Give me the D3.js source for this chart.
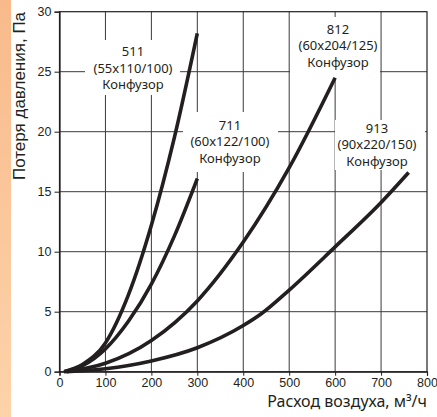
<!DOCTYPE html>
<html><head><meta charset="utf-8">
<script src="https://cdn.jsdelivr.net/npm/d3@7"></script>
<style>
html,body{margin:0;padding:0;background:#fff;}
svg{display:block;}
</style></head>
<body>
<svg id="chart" width="437" height="417"></svg>
<script>
// ---- data ----
const xTicks = [0, 100, 200, 300, 400, 500, 600, 700, 800];
const yTicks = [0, 5, 10, 15, 20, 25, 30];

const flow511 = [10, 50, 100, 150, 200, 250, 300];
const loss511 = [0, 0.6, 2.4, 6.4, 12.2, 19.5, 28.2];

const flow711 = [10, 50, 100, 150, 200, 250, 300];
const loss711 = [0, 0.5, 1.9, 4.2, 7.3, 11.3, 16.1];

const flow812 = [15, 100, 200, 300, 400, 500, 600];
const loss812 = [0, 0.7, 2.6, 5.9, 10.8, 17.0, 24.5];

const flow913 = [15, 100, 200, 300, 400, 440, 500, 600, 700, 760];
const loss913 = [0, 0.25, 0.9, 2.0, 3.85, 4.85, 6.8, 10.4, 14.1, 16.6];

const seriesNames = ["511", "711", "812", "913"];
const seriesSizes = ["(55x110/100)", "(60x122/100)", "(60x204/125)", "(90x220/150)"];
const seriesType = "Конфузор";

const xTitle = "Расход воздуха, м³/ч";
const yTitle = "Потеря давления, Па";

// ---- layout ----
const svg = d3.select("#chart");
const W = 437, H = 417;
const x = d3.scaleLinear().domain([0, 800]).range([59.5, 427]);
const y = d3.scaleLinear().domain([0, 30]).range([371.7, 11.7]);
const ink = "#231f20";

// orange strip
const defs = svg.append("defs");
const grad = defs.append("linearGradient").attr("id", "strip")
  .attr("x1", 0).attr("y1", 0).attr("x2", 0).attr("y2", 1);
grad.append("stop").attr("offset", "0%").attr("stop-color", "#f8ba8b");
grad.append("stop").attr("offset", "100%").attr("stop-color", "#fdd3aa");
svg.append("rect").attr("x", 0).attr("y", 0).attr("width", 11).attr("height", H)
  .attr("fill", "url(#strip)");

// grid
const g = svg.append("g");
g.selectAll("line.vg").data(xTicks.slice(1, -1)).join("line")
  .attr("x1", d => x(d)).attr("x2", d => x(d))
  .attr("y1", y(30)).attr("y2", y(0))
  .attr("stroke", "#3a3a3a").attr("stroke-width", 1);
g.selectAll("line.hg").data(yTicks.slice(1, -1)).join("line")
  .attr("x1", x(0)).attr("x2", x(800))
  .attr("y1", d => y(d)).attr("y2", d => y(d))
  .attr("stroke", "#3a3a3a").attr("stroke-width", 1);

// label boxes (white knockouts) in data coords
const labelLayout = [
  {cx: 160, cy: 26.27, bx0: 55.5, bx1: 262.4, by0: 27.64, by1: 23.06},
  {cx: 371, cy: 20.14, bx0: 268.8, bx1: 475.6, by0: 21.64, by1: 16.64},
  {cx: 606.3, cy: 28.14, bx0: 501.8, bx1: 697.7, by0: 29.56, by1: 24.48},
  {cx: 691.2, cy: 19.89, bx0: 599.7, bx1: 795.6, by0: 20.98, by1: 16.81}
];
g.selectAll("rect.lb").data(labelLayout).join("rect")
  .attr("x", d => x(d.bx0)).attr("width", d => x(d.bx1) - x(d.bx0))
  .attr("y", d => y(d.by0)).attr("height", d => y(d.by1) - y(d.by0))
  .attr("fill", "#fff");

// frame
svg.append("rect").attr("x", x(0)).attr("y", y(30))
  .attr("width", x(800) - x(0)).attr("height", y(0) - y(30))
  .attr("fill", "none").attr("stroke", ink).attr("stroke-width", 1.2);

// axes
const yAxis = d3.axisLeft(y).tickValues(yTicks).tickSize(5).tickPadding(3);
const xAxis = d3.axisBottom(x).tickValues(xTicks).tickSize(4).tickPadding(2);
const ya = svg.append("g").attr("transform", `translate(${x(0)},0)`).call(yAxis);
const xa = svg.append("g").attr("transform", `translate(0,${y(0)})`).call(xAxis);
[ya, xa].forEach(a => {
  a.select(".domain").attr("stroke", ink).attr("stroke-width", 1.2);
  a.selectAll(".tick line").attr("stroke", ink);
  a.selectAll(".tick text").attr("fill", ink)
    .style("font-family", "'Liberation Sans', Arial, sans-serif").style("font-size", "12.5px");
});

// curves
const series = [
  {f: flow511, l: loss511}, {f: flow711, l: loss711},
  {f: flow812, l: loss812}, {f: flow913, l: loss913}
];
const line = d3.line().x(d => x(d[0])).y(d => y(d[1])).curve(d3.curveMonotoneX);
svg.selectAll("path.s").data(series).join("path")
  .attr("d", s => line(s.f.map((v, i) => [v, s.l[i]])))
  .attr("fill", "none").attr("stroke", ink).attr("stroke-width", 3.6)
  .attr("stroke-linecap", "butt");

// labels
const lab = svg.selectAll("text.lbl").data(labelLayout).join("text")
  .attr("text-anchor", "middle")
  .style("font-family", "'Noto Sans', 'Open Sans', sans-serif").style("font-size", "13px")
  .attr("fill", ink);
lab.each(function(d, i) {
  const t = d3.select(this);
  [seriesNames[i], seriesSizes[i], seriesType].forEach((s, k) => {
    t.append("tspan").attr("x", x(d.cx)).attr("y", y(d.cy) + k * 16.3).text(s);
  });
});

// titles
svg.append("text").attr("x", 427).attr("y", 407).attr("text-anchor", "end")
  .style("font-family", "'Noto Sans', 'Open Sans', sans-serif").style("font-size", "16px")
  .attr("fill", ink).text(xTitle);
svg.append("text").attr("transform", "translate(25,96) rotate(-90)")
  .attr("text-anchor", "middle")
  .style("font-family", "'Liberation Sans', Arial, sans-serif").style("font-size", "17px")
  .attr("fill", ink).text(yTitle);
</script>
</body></html>
